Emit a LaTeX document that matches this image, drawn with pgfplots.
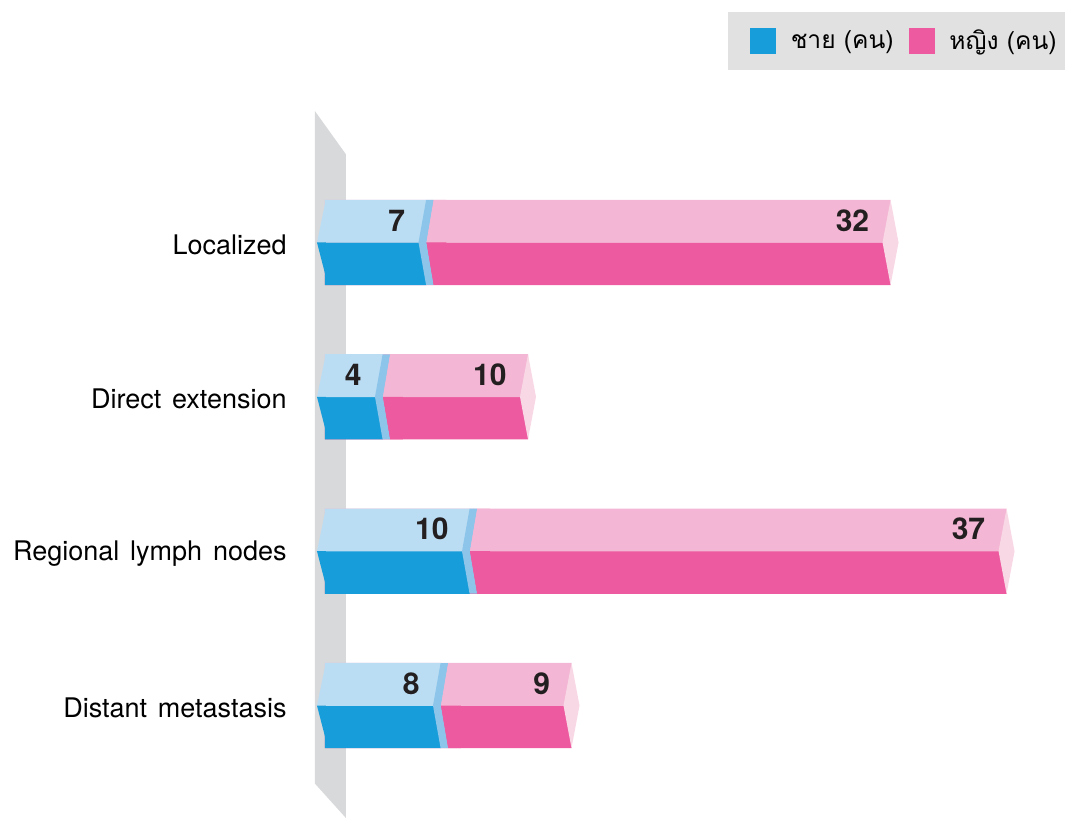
\documentclass[border=0pt]{standalone}
\usepackage{pgfplots}
\usepackage{pgfplotstable}
\pgfplotsset{compat=1.18}
\usepackage{fontspec}
\setmainfont{TeX Gyre Heros}
\newfontfamily\thaifont[Script=Thai]{Loma}
\definecolor{blueD}{HTML}{179DD9}
\definecolor{blueL}{HTML}{BBDDF3}
\definecolor{blueC}{HTML}{8DC5EA}
\definecolor{pinkD}{HTML}{EE5A9F}
\definecolor{pinkL}{HTML}{F3B6D4}
\definecolor{pinkC}{HTML}{F9D8E6}
\definecolor{wallgray}{HTML}{D8D9DB}
\definecolor{leggray}{HTML}{E1E1E1}
\definecolor{numcol}{HTML}{231F20}

% left wedge of the male (first) segment
\pgfdeclareplotmark{mwedge}{%
  \pgfsetfillcolor{blueL}%
  \pgfpathmoveto{\pgfpoint{0.4pt}{21.25pt}}\pgfpathlineto{\pgfpoint{-4pt}{0pt}}\pgfpathlineto{\pgfpoint{0.4pt}{0pt}}\pgfpathclose\pgfusepath{fill}%
  \pgfsetfillcolor{blueD}%
  \pgfpathmoveto{\pgfpoint{-4pt}{0pt}}\pgfpathlineto{\pgfpoint{0.4pt}{0pt}}\pgfpathlineto{\pgfpoint{1.5pt}{-21.25pt}}\pgfpathclose\pgfusepath{fill}%
}
% joint: visible end face of male segment + left wedge of female segment
\pgfdeclareplotmark{joint}{%
  \pgfsetfillcolor{blueC}%
  \pgfpathmoveto{\pgfpoint{-0.2pt}{21.25pt}}\pgfpathlineto{\pgfpoint{3.6pt}{21.25pt}}\pgfpathlineto{\pgfpoint{0pt}{0pt}}%
  \pgfpathlineto{\pgfpoint{3.6pt}{-21.25pt}}\pgfpathlineto{\pgfpoint{-0.2pt}{-21.25pt}}\pgfpathlineto{\pgfpoint{-4pt}{0pt}}\pgfpathclose\pgfusepath{fill}%
  \pgfsetfillcolor{pinkL}%
  \pgfpathmoveto{\pgfpoint{3.6pt}{21.25pt}}\pgfpathlineto{\pgfpoint{10pt}{21.25pt}}\pgfpathlineto{\pgfpoint{10pt}{0pt}}\pgfpathlineto{\pgfpoint{0pt}{0pt}}\pgfpathclose\pgfusepath{fill}%
  \pgfsetfillcolor{pinkD}%
  \pgfpathmoveto{\pgfpoint{0pt}{0pt}}\pgfpathlineto{\pgfpoint{10pt}{0pt}}\pgfpathlineto{\pgfpoint{10pt}{-21.25pt}}\pgfpathlineto{\pgfpoint{3.6pt}{-21.25pt}}\pgfpathclose\pgfusepath{fill}%
}
% end face of female segment
\pgfdeclareplotmark{fcap}{%
  \pgfsetfillcolor{pinkC}%
  \pgfpathmoveto{\pgfpoint{0pt}{21.25pt}}\pgfpathlineto{\pgfpoint{4pt}{0pt}}\pgfpathlineto{\pgfpoint{0pt}{-21.25pt}}\pgfpathlineto{\pgfpoint{-4pt}{0pt}}\pgfpathclose\pgfusepath{fill}%
}

\pgfplotstableread{
c m f
0 7 32
1 4 10
2 10 37
3 8 9
}\datatable

\pgfplotsset{numlab/.style={point meta=explicit, nodes near coords,
  /pgf/number format/assume math mode=true,
  every node near coord/.append style={anchor=east, inner sep=0pt, xshift=-10.5pt, yshift=11pt,
    font=\fontsize{15}{18}\selectfont\bfseries, text=numcol}}}

\begin{document}
\begin{tikzpicture}
\begin{axis}[
  x=7.25pt, y=77.17pt,
  xmin=-22.41, xmax=51.03,
  ymin=-1.571, ymax=3.729,
  y dir=reverse,
  enlargelimits=false,
  clip=false,
  axis line style={draw=none},
  tick style={draw=none},
  xtick=\empty,
  ytick={0,1,2,3},
  yticklabels={Localized, Direct\hspace{0.4em}extension, Regional\hspace{0.4em}lymph\hspace{0.4em}nodes, Distant\hspace{0.4em}metastasis},
  yticklabel style={font=\fontsize{13.5}{16}\selectfont, anchor=east, inner sep=0pt, xshift=143.5pt, yshift=-1.2pt},
  legend style={at={(axis description cs:1,0.98533)}, anchor=north east,
    fill=leggray, draw=none, inner xsep=4pt, inner ysep=6.8pt,
    nodes={inner xsep=0pt},
    font=\fontsize{12.3}{15}\selectfont\thaifont,
    /tikz/every odd column/.append style={column sep=7.5pt},
    /tikz/every even column/.append style={column sep=0.5pt}},
  legend columns=2,
  legend cell align=left,
]
\addplot[fill=wallgray, draw=none, forget plot] coordinates {(-0.69,-0.851) (1.448,-0.571) (1.448,3.729) (-0.69,3.506)} --cycle;

% female (drawn from 0 to total, covered by male on the left)
\addplot[xbar, bar width=21.4pt, fill=pinkD, draw=none, bar shift=-10.6pt, forget plot] table[x expr=\thisrow{m}+\thisrow{f}, y=c]{\datatable};
\addplot[xbar, bar width=21.4pt, fill=pinkL, draw=none, bar shift=10.6pt, forget plot]
  table[x expr=\thisrow{m}+\thisrow{f}, y=c]{\datatable};
% male
\addplot[xbar, bar width=21.4pt, fill=blueD, draw=none, bar shift=-10.6pt, forget plot] table[x=m, y=c]{\datatable};
\addplot[xbar, bar width=21.4pt, fill=blueL, draw=none, bar shift=10.6pt, forget plot] table[x=m, y=c]{\datatable};

\addplot[only marks, mark=mwedge, forget plot] table[x expr=0, y=c]{\datatable};
\addplot[only marks, mark=joint, forget plot] table[x=m, y=c]{\datatable};
\addplot[only marks, mark=fcap, forget plot] table[x expr=\thisrow{m}+\thisrow{f}, y=c]{\datatable};
% value labels
\addplot[xbar, bar width=21.4pt, draw=none, fill=none, bar shift=10.6pt, forget plot, numlab]
  table[x expr=\thisrow{m}+\thisrow{f}, y=c, meta=f]{\datatable};
\addplot[xbar, bar width=21.4pt, draw=none, fill=none, bar shift=10.6pt, forget plot, numlab]
  table[x=m, y=c, meta=m]{\datatable};

\addlegendimage{legend image code/.code={\path (0pt,0pt); \fill[blueD] (7pt,-6.25pt) rectangle (19.5pt,6.25pt);}}
\addlegendentry{ชาย (คน)}
\addlegendimage{legend image code/.code={\path (0pt,0pt); \fill[pinkD] (7pt,-6.25pt) rectangle (19.5pt,6.25pt);}}
\addlegendentry{หญิง (คน)}
\end{axis}
\end{tikzpicture}
\end{document}
